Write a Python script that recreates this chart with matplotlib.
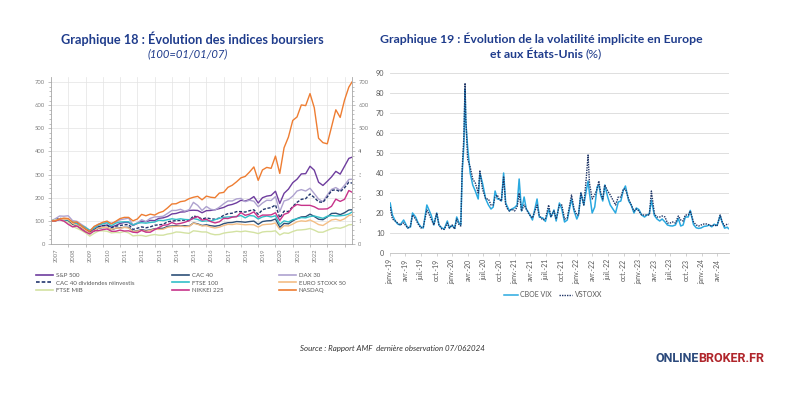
import matplotlib
matplotlib.use('Agg')
import matplotlib.pyplot as plt
import pandas as pd
from matplotlib.patches import Rectangle

plt.rcParams['font.family'] = ['Lato', 'DejaVu Sans']

# ---------------- Graphique 18 data (base 100 = 01/01/07), quarterly ----------------
idx_dates = list(pd.date_range('2007-01-01', '2024-04-01', freq='QS')) + [pd.Timestamp('2024-06-07')]

sp500 = [100, 100, 106, 108, 104, 93, 90, 78, 64, 52, 65, 75, 79, 82, 73, 80,
         89, 93, 93, 80, 89, 99, 96, 102, 101, 111, 113, 119, 130, 132, 138, 139,
         145, 146, 145, 135, 144, 145, 148, 153, 158, 167, 171, 178, 189, 186, 192, 205,
         177, 200, 207, 210, 228, 175, 219, 237, 265, 280, 303, 304, 336, 319, 267, 253,
         271, 290, 314, 302, 336, 370, 375]
cac40 = [100, 102, 109, 105, 101, 85, 79, 70, 58, 48, 56, 68, 71, 72, 62, 68,
         70, 72, 72, 54, 57, 62, 58, 61, 66, 67, 68, 76, 78, 79, 79, 79,
         77, 91, 87, 80, 83, 79, 77, 80, 88, 92, 93, 97, 96, 94, 97, 99,
         85, 97, 100, 101, 108, 72, 89, 87, 100, 110, 117, 118, 129, 119, 107, 105,
         117, 132, 133, 127, 135, 147, 148]
dax30 = [100, 109, 121, 120, 122, 101, 98, 85, 73, 58, 74, 86, 90, 93, 90, 94,
         105, 108, 112, 83, 91, 105, 97, 111, 117, 118, 120, 132, 145, 145, 150, 142,
         148, 180, 167, 145, 162, 150, 147, 159, 174, 186, 186, 195, 197, 183, 189, 185,
         161, 177, 189, 188, 205, 140, 186, 192, 207, 229, 235, 229, 241, 218, 194, 183,
         212, 236, 244, 232, 254, 279, 280]
cac40_gr = [100, 103, 111, 108, 105, 89, 83, 74, 62, 52, 61, 74, 79, 81, 70, 77,
            80, 83, 84, 63, 68, 74, 70, 74, 81, 83, 85, 96, 99, 101, 102, 103,
            101, 121, 117, 108, 113, 109, 107, 112, 124, 131, 133, 140, 140, 138, 144, 148,
            128, 148, 154, 157, 169, 113, 142, 140, 162, 180, 193, 196, 216, 201, 182, 180,
            203, 231, 235, 226, 243, 267, 263]
ftse100 = [100, 101, 106, 105, 104, 95, 87, 80, 71, 59, 68, 82, 87, 92, 79, 90,
           95, 96, 96, 82, 90, 92, 90, 93, 95, 103, 101, 105, 109, 106, 109, 106,
           105, 110, 106, 98, 100, 99, 105, 111, 115, 117, 118, 119, 123, 113, 123, 121,
           108, 117, 121, 117, 122, 85, 100, 95, 105, 109, 114, 113, 119, 121, 116, 111,
           120, 123, 121, 122, 124, 130, 138]
eurostoxx50 = [100, 102, 108, 107, 107, 89, 81, 73, 59, 46, 58, 69, 72, 72, 63, 69,
               68, 72, 69, 53, 56, 59, 55, 59, 64, 63, 64, 72, 75, 76, 78, 75,
               76, 90, 85, 78, 79, 73, 69, 73, 80, 85, 84, 87, 85, 83, 84, 83,
               73, 83, 85, 86, 91, 63, 79, 78, 86, 96, 100, 98, 104, 95, 84, 80,
               92, 104, 107, 101, 109, 123, 126]
ftsemib = [100, 104, 105, 98, 93, 76, 68, 59, 48, 34, 46, 56, 57, 55, 48, 50,
           49, 54, 48, 35, 37, 37, 33, 38, 41, 38, 38, 43, 46, 52, 51, 48,
           46, 57, 55, 52, 52, 44, 40, 41, 47, 50, 52, 55, 53, 56, 53, 50,
           45, 52, 54, 54, 57, 39, 48, 46, 54, 60, 61, 63, 67, 60, 51, 51,
           59, 66, 70, 68, 74, 83, 84]
nikkei225 = [100, 100, 105, 99, 85, 74, 78, 64, 52, 43, 57, 58, 62, 65, 55, 55,
             60, 56, 57, 51, 49, 59, 51, 51, 62, 71, 81, 83, 93, 86, 89, 94,
             101, 112, 119, 103, 107, 97, 91, 96, 111, 110, 116, 118, 136, 124, 129, 139,
             116, 125, 125, 126, 135, 102, 128, 135, 159, 171, 167, 167, 167, 161, 151, 151,
             152, 163, 194, 184, 193, 231, 224]
nasdaq = [100, 100, 108, 112, 110, 94, 95, 80, 65, 55, 76, 85, 94, 99, 87, 98,
          110, 115, 115, 100, 108, 128, 122, 129, 125, 135, 141, 156, 173, 174, 183, 186,
          196, 202, 206, 191, 207, 202, 200, 220, 223, 245, 254, 269, 286, 292, 311, 333,
          275, 320, 331, 327, 380, 305, 416, 462, 534, 549, 601, 598, 650, 589, 457, 438,
          433, 506, 580, 547, 622, 678, 700]

year_labels = [str(y) for y in range(2007, 2024)]

# ---------------- Graphique 19 data (%) ----------------
vol_dates = pd.to_datetime([
    "2019-01-02", "2019-01-15", "2019-02-01", "2019-02-15", "2019-03-01", "2019-03-22", "2019-04-15", "2019-05-01",
    "2019-05-13", "2019-05-31", "2019-06-15", "2019-07-01", "2019-07-15", "2019-08-05", "2019-08-15", "2019-08-30",
    "2019-09-15", "2019-10-02", "2019-10-15", "2019-11-01", "2019-11-15", "2019-12-03", "2019-12-15", "2019-12-31",
    "2020-01-15", "2020-01-27", "2020-02-10", "2020-02-20", "2020-02-28", "2020-03-09", "2020-03-16", "2020-03-20",
    "2020-03-31", "2020-04-15", "2020-04-30", "2020-05-15", "2020-06-01", "2020-06-11", "2020-06-26", "2020-07-15",
    "2020-07-31", "2020-08-15", "2020-08-28", "2020-09-08", "2020-09-21", "2020-10-01", "2020-10-15", "2020-10-28",
    "2020-11-09", "2020-11-20", "2020-12-01", "2020-12-15", "2020-12-31",
    "2021-01-15", "2021-01-27", "2021-02-10", "2021-02-25", "2021-03-10", "2021-03-25", "2021-04-15", "2021-05-12",
    "2021-05-25", "2021-06-15", "2021-06-30", "2021-07-19", "2021-08-01", "2021-08-19", "2021-09-01", "2021-09-20",
    "2021-10-04", "2021-10-20", "2021-11-05", "2021-11-30", "2021-12-15", "2021-12-31",
    "2022-01-10", "2022-01-24", "2022-02-10", "2022-02-24", "2022-03-07", "2022-03-15", "2022-03-31", "2022-04-15",
    "2022-04-29", "2022-05-09", "2022-05-20", "2022-06-01", "2022-06-13", "2022-06-30", "2022-07-15", "2022-08-15",
    "2022-08-31", "2022-09-15", "2022-09-30", "2022-10-12", "2022-10-31", "2022-11-15", "2022-12-01", "2022-12-15",
    "2022-12-30",
    "2023-01-15", "2023-02-01", "2023-02-15", "2023-03-01", "2023-03-13", "2023-03-31", "2023-04-15", "2023-05-01",
    "2023-05-15", "2023-06-01", "2023-06-15", "2023-07-01", "2023-07-15", "2023-08-01", "2023-08-18", "2023-09-01",
    "2023-09-15", "2023-09-28", "2023-10-15", "2023-10-27", "2023-11-15", "2023-12-01", "2023-12-15", "2023-12-29",
    "2024-01-15", "2024-02-01", "2024-02-15", "2024-03-01", "2024-03-15", "2024-04-01", "2024-04-19", "2024-05-01",
    "2024-05-15", "2024-05-31", "2024-06-07"])

cboe_vix = [25, 19, 16, 14.5, 14, 16.5, 12.5, 13, 20, 18, 15, 13, 12.5, 24, 22, 19, 14, 20, 14, 12.5, 12, 16, 12.5, 13.8,
            12.3, 18, 15, 14, 40, 54, 82, 66, 53, 40, 34, 31, 27, 40, 35, 27, 24, 22, 23, 31, 27, 27, 26, 40, 25, 23, 21, 22, 22.7,
            24, 37, 21, 28, 22, 20, 16.5, 27, 18, 17.5, 15.8, 22, 18, 21.5, 16, 25, 22, 15.5, 16.5, 27, 21, 17,
            19, 30, 24, 31, 36, 30, 20, 23, 33, 34, 29, 26, 34, 28, 24, 20, 25.5, 26, 31.5, 33.5, 26, 24, 20, 22.5, 21.7,
            19, 18, 19, 19.5, 26.5, 18.7, 17, 16, 17, 15.5, 14, 13.6, 13.5, 14, 17.3, 13.5, 14, 18, 18, 21.3, 14.2, 12.6, 12.3, 12.5,
            13.3, 13.5, 14, 13.1, 14.4, 13.7, 18.7, 15.4, 12.4, 12.9, 12.2]
vstoxx = [23, 17, 16, 15, 14, 15, 12.5, 13.5, 19, 17, 14.5, 12.5, 13, 21.5, 20, 17, 14, 20, 14, 12, 11.8, 15, 12.5, 14,
          12, 17, 14, 13.5, 42, 58, 85, 68, 47, 43, 37, 35, 30, 41, 32, 27, 27, 24, 24, 28, 29, 27, 26, 38, 24, 22, 21, 22, 21,
          23, 30, 21, 24, 22, 19.5, 17.5, 24, 18.5, 16.5, 17, 24, 18, 21, 17, 24, 24, 17, 17.5, 29, 22, 19,
          19, 30, 24, 37, 49, 35, 27, 29, 32, 36, 30, 27, 34, 31, 29, 24, 28, 28, 32, 32, 27, 24, 21, 22, 21,
          19, 19, 19, 19, 31, 19.5, 18, 18, 18.5, 18, 15, 15, 15.5, 15, 18.5, 16.5, 16, 19, 19, 21, 15.5, 14, 13.5, 14,
          14.5, 14.5, 14, 13.5, 14, 13.5, 19, 15.5, 13.5, 14.5, 14.5]

month_names = ['janv.', 'avr.', 'juil.', 'oct.']
quarter_ticks = pd.date_range('2019-01-01', '2024-04-01', freq='QS')
quarter_labels = [f"{month_names[(d.month - 1) // 3]}-{d.year % 100:02d}" for d in quarter_ticks]

# ---------------- figure ----------------
W, H = 800, 400
fig = plt.figure(figsize=(8, 4), dpi=100)
fig.patch.set_facecolor('white')

TITLE_C = '#1F3C8C'
TICK_C = '#7F7F7F'
AX_C = '#A6A6A6'

# ---- left chart ----
ax1 = fig.add_axes([51 / W, 156 / H, 301 / W, 166.6 / H])
styles = [
    ('S&P 500', sp500, '#6E3D9E', '-'),
    ('CAC 40', cac40, '#2E5078', '-'),
    ('DAX 30', dax30, '#AEA2CF', '-'),
    ('CAC 40 dividendes réinvestis', cac40_gr, '#22366E', (0, (2.2, 1.2))),
    ('FTSE 100', ftse100, '#33BFC8', '-'),
    ('EURO STOXX 50', eurostoxx50, '#F4BE85', '-'),
    ('FTSE MIB', ftsemib, '#D3E2A2', '-'),
    ('NIKKEI 225', nikkei225, '#C7338A', '-'),
    ('NASDAQ', nasdaq, '#EE7D32', '-'),
]
handles = {}
for name, vals, col, ls in styles:
    ln, = ax1.plot(idx_dates, vals, color=col, lw=1.0, ls=ls, label=name)
    handles[name] = ln

ax1.set_xlim(pd.Timestamp('2007-01-01'), pd.Timestamp('2024-06-07'))
ax1.set_ylim(0, 720)
ax1.set_yticks(range(0, 701, 100))
ax1.set_yticks(range(0, 701, 20), minor=True)
year_grid = pd.date_range('2008-01-01', '2024-01-01', freq='YS')
ax1.set_xticks(year_grid)
ax1.set_xticklabels([])
label_pos = [pd.Timestamp(f'{y}-04-20') for y in year_labels]
ax1.set_xticks(label_pos, minor=True)
ax1.set_xticklabels(year_labels, minor=True, rotation=90, fontsize=4.2, color=TICK_C)
ax1.tick_params(axis='x', which='minor', length=0, pad=3)
ax1.tick_params(axis='x', which='major', length=2, width=0.5, color=AX_C)
ax1.tick_params(axis='y', which='both', left=True, right=True, labelleft=True, labelright=True,
                labelsize=4.2, labelcolor=TICK_C, color=AX_C, width=0.5, pad=2)
ax1.tick_params(axis='y', which='major', length=2.5)
ax1.tick_params(axis='y', which='minor', length=1.2)
ax1.grid(True, which='major', color='#E3E3E3', lw=0.5)
ax1.set_axisbelow(True)
for s in ['left', 'right', 'bottom']:
    ax1.spines[s].set_color(AX_C)
    ax1.spines[s].set_linewidth(0.6)
ax1.spines['top'].set_visible(False)

# the right-hand labels are cut where the second chart begins, as in the reference
fig.add_artist(Rectangle((361 / W, 60 / H), 10 / W, 200 / H, transform=fig.transFigure,
                         facecolor='white', edgecolor='none', zorder=10))

legend_cols = [
    (36, ['S&P 500', 'CAC 40 dividendes réinvestis', 'FTSE MIB']),
    (172, ['CAC 40', 'FTSE 100', 'NIKKEI 225']),
    (279, ['DAX 30', 'EURO STOXX 50', 'NASDAQ']),
]
for xpx, names in legend_cols:
    leg = fig.legend([handles[n] for n in names], names, loc='upper left',
                     bbox_to_anchor=(xpx / W, (H - 273) / H), bbox_transform=fig.transFigure,
                     frameon=False, fontsize=4.4, handlelength=2.7, handletextpad=0.55,
                     labelspacing=0.32, borderpad=0, borderaxespad=0)
    for t in leg.get_texts():
        t.set_color('#595959')
    for l in leg.get_lines():
        l.set_linewidth(1.2)

# ---- right chart ----
ax2 = fig.add_axes([390 / W, 147 / H, 339 / W, 180 / H])
ax2.plot(vol_dates, cboe_vix, color='#2AA9E0', lw=1.1, label='CBOE VIX')
ax2.plot(vol_dates, vstoxx, color='#1F3566', lw=1.0, ls=(0, (1, 0.8)), label='VSTOXX')
ax2.set_xlim(pd.Timestamp('2019-01-01'), pd.Timestamp('2024-06-10'))
ax2.set_ylim(0, 90)
ax2.set_yticks(range(0, 91, 10))
ax2.set_xticks(quarter_ticks)
ax2.set_xticklabels(quarter_labels, rotation=90, fontsize=5, color='#595959')
ax2.tick_params(axis='y', length=0, labelsize=5.2, labelcolor='#595959', pad=4)
ax2.tick_params(axis='x', length=2, width=0.5, color='#BFBFBF', pad=2)
ax2.grid(True, axis='y', color='#D9D9D9', lw=0.6)
ax2.set_axisbelow(True)
for s in ['left', 'right', 'top']:
    ax2.spines[s].set_visible(False)
ax2.spines['bottom'].set_color('#BFBFBF')
ax2.spines['bottom'].set_linewidth(0.6)
leg2 = ax2.legend(loc='upper center', bbox_to_anchor=(553 / W, (H - 291) / H), bbox_transform=fig.transFigure,
                  ncol=2, frameon=False, fontsize=5, handlelength=2.0, handletextpad=0.3,
                  columnspacing=1.0, borderpad=0, borderaxespad=0)
for t in leg2.get_texts():
    t.set_color('#595959')

# ---------------- texts ----------------
renderer = fig.canvas.get_renderer()


def fit(t, width_px):
    w = t.get_window_extent(renderer=renderer).width
    t.set_fontsize(t.get_fontsize() * width_px / w)
    return t


t1 = fig.text(192 / W, (H - 39) / H, 'Graphique 18 : Évolution des indices boursiers', ha='center', va='center',
              fontsize=10, fontweight='bold', color=TITLE_C)
fit(t1, 262)
t2 = fig.text(188 / W, (H - 54) / H, '(100=01/01/07)', ha='center', va='center', fontsize=10,
              fontstyle='italic', color=TITLE_C)
fit(t2, 80)

t3 = fig.text(541 / W, (H - 39) / H, 'Graphique 19 : Évolution de la volatilité implicite en Europe', ha='center',
              va='center', fontsize=10, fontweight='bold', color=TITLE_C)
fit(t3, 325)
fs3 = t3.get_fontsize()
t4a = fig.text(0, (H - 54) / H, 'et aux États-Unis ', ha='left', va='center', fontsize=fs3,
               fontweight='bold', color=TITLE_C)
t4b = fig.text(0, (H - 54) / H, '(%)', ha='left', va='center', fontsize=fs3, color=TITLE_C)
wa = t4a.get_window_extent(renderer=renderer).width
wb = t4b.get_window_extent(renderer=renderer).width
x0 = 546 - (wa + wb) / 2
t4a.set_x(x0 / W)
t4b.set_x((x0 + wa) / W)

ts = fig.text(300 / W, (H - 348) / H, 'Source : Rapport AMF  dernière observation 07/062024', ha='left', va='center',
              fontsize=10, fontstyle='italic', color='#333333')
fit(ts, 183)

logo_font = ['Liberation Sans Narrow', 'Roboto', 'DejaVu Sans']
la = fig.text(656 / W, (H - 358) / H, 'ONLINE', ha='left', va='center', fontsize=10, fontweight='bold',
              color='#2C4A7C', family=logo_font)
lb = fig.text(0, (H - 358) / H, 'BROKER.FR', ha='left', va='center', fontsize=10, fontweight='bold',
              color='#B0252B', family=logo_font)
w1 = la.get_window_extent(renderer=renderer).width
w2 = lb.get_window_extent(renderer=renderer).width
k = 110 / (w1 + w2)
la.set_fontsize(10 * k)
lb.set_fontsize(10 * k)
lb.set_x((656 + w1 * k - 1.5) / W)

fig.savefig('out.png', dpi=100, facecolor='white')
